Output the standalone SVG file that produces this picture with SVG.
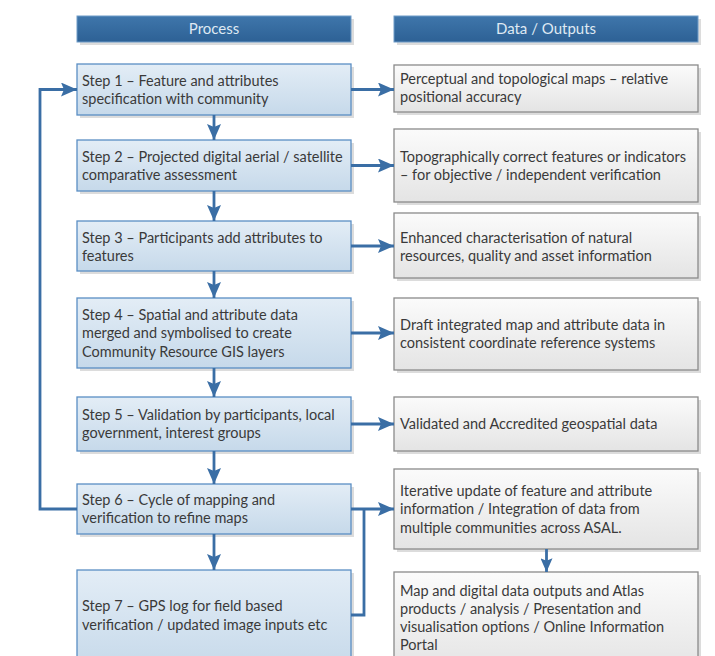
<svg xmlns="http://www.w3.org/2000/svg" width="715" height="656" viewBox="0 0 715 656">
<defs>
<linearGradient id="hdr" x1="0" y1="0" x2="0" y2="1"><stop offset="0" stop-color="#3f76ab"/><stop offset="1" stop-color="#2d6195"/></linearGradient>
<linearGradient id="proc" x1="0" y1="0" x2="0" y2="1"><stop offset="0" stop-color="#e3edf6"/><stop offset="1" stop-color="#c6d9ea"/></linearGradient>
<linearGradient id="data" x1="0" y1="0" x2="0" y2="1"><stop offset="0" stop-color="#fbfbfb"/><stop offset="1" stop-color="#e4e4e4"/></linearGradient>
<marker id="ah" viewBox="0 0 16 14" refX="16" refY="7" markerWidth="16" markerHeight="14" markerUnits="userSpaceOnUse" orient="auto"><path d="M0,0 L16,7 L0,14 L3,7 Z" fill="#3a6ea5"/></marker>
<marker id="ahs" viewBox="0 0 16 14" refX="16" refY="7" markerWidth="14" markerHeight="12" markerUnits="userSpaceOnUse" orient="auto"><path d="M0,0 L16,7 L0,14 L3,7 Z" fill="#3a6ea5"/></marker>
</defs>
<style>
.sh{fill:#dcdcdc}
.hdr{fill:url(#hdr);stroke:#6f9cc8;stroke-width:1}
.proc{fill:url(#proc);stroke:#5a8ec4;stroke-width:1.3}
.data{fill:url(#data);stroke:#8a8a8a;stroke-width:1.3}
text{font-family:Lato,"Liberation Sans",sans-serif;font-size:14.5px;fill:#3a3a3a}
.ht{fill:#dfe9f3;text-anchor:middle;font-size:15px}
.c{fill:none;stroke:#3a6ea5;stroke-width:2.8}
</style>
<rect x="0" y="0" width="715" height="656" fill="#ffffff"/>
<g id="hdr-process"><rect class="sh" x="80" y="19" width="274" height="26"/><rect class="hdr" x="77" y="16" width="274" height="26"/><text class="ht" x="214" y="34">Process</text></g>
<g id="hdr-data"><rect class="sh" x="397" y="19" width="304" height="26"/><rect class="hdr" x="394" y="16" width="304" height="26"/><text class="ht" x="546" y="34">Data / Outputs</text></g>

<g id="step1"><rect class="sh" x="80" y="67" width="274" height="51"/><rect class="proc" x="77" y="64" width="274" height="51"/><text x="82" y="86">Step 1 – Feature and attributes</text><text x="82" y="104">specification with community</text></g>
<g id="step2"><rect class="sh" x="80" y="143" width="274" height="51"/><rect class="proc" x="77" y="140" width="274" height="51"/><text x="82" y="162">Step 2 – Projected digital aerial / satellite</text><text x="82" y="180">comparative assessment</text></g>
<g id="step3"><rect class="sh" x="80" y="224" width="274" height="50"/><rect class="proc" x="77" y="221" width="274" height="50"/><text x="82" y="243">Step 3 – Participants add attributes to</text><text x="82" y="261">features</text></g>
<g id="step4"><rect class="sh" x="80" y="301" width="274" height="70"/><rect class="proc" x="77" y="298" width="274" height="70"/><text x="82" y="320">Step 4 – Spatial and attribute data</text><text x="82" y="338">merged and symbolised to create</text><text x="82" y="357">Community Resource GIS layers</text></g>
<g id="step5"><rect class="sh" x="80" y="400" width="274" height="54"/><rect class="proc" x="77" y="397" width="274" height="54"/><text x="82" y="420">Step 5 – Validation by participants, local</text><text x="82" y="438">government, interest groups</text></g>
<g id="step6"><rect class="sh" x="80" y="487" width="274" height="50"/><rect class="proc" x="77" y="484" width="274" height="50"/><text x="82" y="505">Step 6 – Cycle of mapping and</text><text x="82" y="523">verification to refine maps</text></g>
<g id="step7"><rect class="sh" x="80" y="573" width="274" height="100"/><rect class="proc" x="77" y="570" width="274" height="100"/><text x="82" y="611">Step 7 – GPS log for field based</text><text x="82" y="630">verification / updated image inputs etc</text></g>

<g id="out1"><rect class="sh" x="397" y="68" width="304" height="47"/><rect class="data" x="394" y="65" width="304" height="47"/><text x="400" y="84">Perceptual and topological maps – relative</text><text x="400" y="102">positional accuracy</text></g>
<g id="out2"><rect class="sh" x="397" y="132" width="304" height="73"/><rect class="data" x="394" y="129" width="304" height="73"/><text x="400" y="162">Topographically correct features or indicators</text><text x="400" y="180">– for objective / independent verification</text></g>
<g id="out3"><rect class="sh" x="397" y="216" width="304" height="65"/><rect class="data" x="394" y="213" width="304" height="65"/><text x="400" y="243">Enhanced characterisation of natural</text><text x="400" y="261">resources, quality and asset information</text></g>
<g id="out4"><rect class="sh" x="397" y="301" width="304" height="72"/><rect class="data" x="394" y="298" width="304" height="72"/><text x="400" y="330">Draft integrated map and attribute data in</text><text x="400" y="348">consistent coordinate reference systems</text></g>
<g id="out5"><rect class="sh" x="397" y="400" width="304" height="54"/><rect class="data" x="394" y="397" width="304" height="54"/><text x="400" y="429">Validated and Accredited geospatial data</text></g>
<g id="out6"><rect class="sh" x="397" y="472" width="304" height="80"/><rect class="data" x="394" y="469" width="304" height="80"/><text x="400" y="496">Iterative update of feature and attribute</text><text x="400" y="514">information / Integration of data from</text><text x="400" y="533">multiple communities across ASAL.</text></g>
<g id="out7"><rect class="sh" x="397" y="575" width="304" height="100"/><rect class="data" x="394" y="572" width="304" height="100"/><text x="400" y="596">Map and digital data outputs and Atlas</text><text x="400" y="614">products / analysis / Presentation and</text><text x="400" y="632">visualisation options / Online Information</text><text x="400" y="650">Portal</text></g>

<g id="connectors">
<path class="c" d="M214,115 V140" marker-end="url(#ah)"/>
<path class="c" d="M214,191 V221" marker-end="url(#ah)"/>
<path class="c" d="M214,271 V298" marker-end="url(#ah)"/>
<path class="c" d="M214,368 V397" marker-end="url(#ah)"/>
<path class="c" d="M214,451 V484" marker-end="url(#ah)"/>
<path class="c" d="M214,534 V570" marker-end="url(#ah)"/>
<path class="c" d="M351,89.5 H394" marker-end="url(#ah)"/>
<path class="c" d="M351,165.5 H394" marker-end="url(#ah)"/>
<path class="c" d="M351,246 H394" marker-end="url(#ah)"/>
<path class="c" d="M351,333 H394" marker-end="url(#ah)"/>
<path class="c" d="M351,424 H394" marker-end="url(#ah)"/>
<path class="c" d="M351,509 H394" marker-end="url(#ah)"/>
<path class="c" d="M351,615 H364 V509"/>
<path class="c" d="M77,509 H40 V89.5 H77" marker-end="url(#ah)"/>
<path class="c" d="M546.5,549 V572" marker-end="url(#ahs)"/>
</g>
</svg>
